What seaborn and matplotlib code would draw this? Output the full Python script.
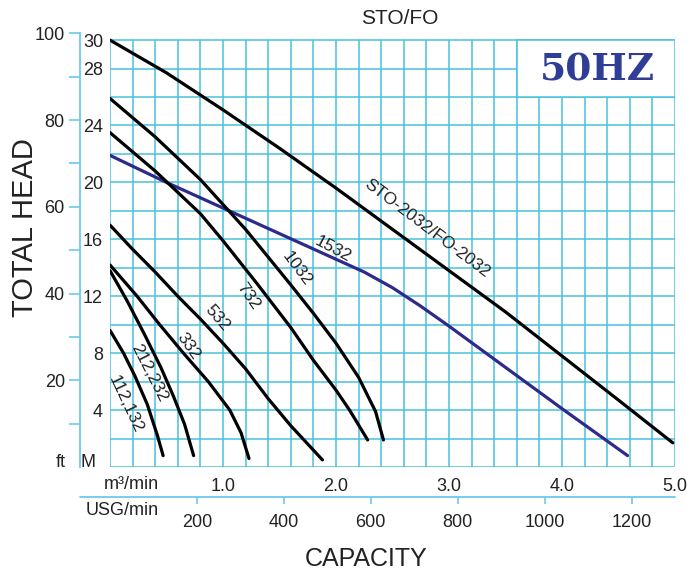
import numpy as np
import pandas as pd
import seaborn as sns
import matplotlib.pyplot as plt
from matplotlib.patches import Rectangle
from matplotlib.ticker import FixedLocator

sns.set_style("white")
plt.rcParams['font.family'] = ['Liberation Sans', 'DejaVu Sans']

# pump curves: capacity (m3/min) vs total head (M)
q_2032 = [0, 0.5, 1.0, 1.5, 2.0, 2.5, 3.0, 3.5, 4.0, 4.5, 4.98]
h_2032 = [30, 27.7, 25.1, 22.4, 19.6, 16.7, 13.8, 10.9, 7.8, 4.7, 1.7]

q_1532 = [0, 0.5, 1.0, 1.5, 2.0, 2.25, 2.5, 2.75, 3.0, 3.5, 4.0, 4.58]
h_1532 = [21.9, 20.0, 18.2, 16.4, 14.6, 13.7, 12.6, 11.3, 9.9, 7.0, 4.1, 0.8]

q_1032 = [0, 0.4, 0.8, 1.2, 1.6, 1.8, 2.0, 2.2, 2.35, 2.42]
h_1032 = [25.9, 23.2, 20.2, 16.7, 12.8, 10.8, 8.7, 6.3, 3.9, 1.9]

q_732 = [0, 0.4, 0.8, 1.0, 1.3, 1.6, 1.8, 2.0, 2.12, 2.28]
h_732 = [23.5, 20.8, 17.8, 15.9, 12.9, 9.8, 7.5, 5.4, 4.0, 1.9]

q_532 = [0, 0.2, 0.4, 0.6, 0.8, 1.0, 1.2, 1.4, 1.6, 1.88]
h_532 = [17.0, 15.3, 13.7, 12.0, 10.4, 8.7, 6.9, 4.8, 2.9, 0.5]

q_332 = [0, 0.24, 0.44, 0.65, 0.87, 1.06, 1.16, 1.23]
h_332 = [14.2, 12.0, 10.0, 8.0, 6.0, 4.0, 2.4, 0.6]

q_212 = [0, 0.15, 0.3, 0.45, 0.56, 0.66, 0.74]
h_212 = [13.8, 11.7, 9.4, 7.0, 5.0, 3.0, 0.8]

q_112 = [0, 0.12, 0.22, 0.33, 0.42, 0.47]
h_112 = [9.6, 8.0, 6.4, 4.4, 2.2, 0.8]

curves = [
    (q_2032, h_2032, 'black'),
    (q_1532, h_1532, '#2e2a8c'),
    (q_1032, h_1032, 'black'),
    (q_732, h_732, 'black'),
    (q_532, h_532, 'black'),
    (q_332, h_332, 'black'),
    (q_212, h_212, 'black'),
    (q_112, h_112, 'black'),
]

# curve labels: text, x, y, angle
label_text = ['STO-2032/FO-2032', '1532', '1032', '732', '532', '332', '212,232', '112,132']
label_x = [2.80, 1.97, 1.65, 1.22, 0.95, 0.69, 0.35, 0.14]
label_y = [16.8, 15.3, 13.9, 12.0, 10.5, 8.5, 6.6, 4.4]
label_rot = [-37, -28, -53, -55, -49, -55, -63, -65]

m_ticks = [4, 8, 12, 16, 20, 24, 28, 30]
ft_major = [20, 40, 60, 80, 100]
ft_minor = [10, 30, 50, 70, 90]
m3_ticks = [1, 2, 3, 4, 5]
usg_ticks = [200, 400, 600, 800, 1000, 1200]

grid_c = '#48c2dc'
axis_c = '#6ccaee'
txt_c = '#222222'

fig = plt.figure(figsize=(6.87, 5.73), dpi=100)
ax = fig.add_axes([110 / 687, 106 / 573, 565 / 687, 434 / 573])
ax.set_xlim(0, 5)
ax.set_ylim(0, 30.5)
for s in ax.spines.values():
    s.set_visible(False)

# graph paper grid
ax.vlines(np.arange(0, 5.01, 0.2), 0, 30, color=grid_c, lw=1.1, zorder=1)
ax.hlines(np.arange(0, 30.1, 2), 0, 5, color=grid_c, lw=1.1, zorder=1)
ax.add_patch(Rectangle((3.6, 26), 1.4, 4, facecolor='white', edgecolor=grid_c, lw=1.1, zorder=2))
ax.text(4.31, 27.9, '50HZ', color='#2f3d96', fontsize=27, fontweight='bold',
        family='DejaVu Serif', ha='center', va='center', zorder=3)

for q, h, c in curves:
    sns.lineplot(x=q, y=h, ax=ax, color=c, lw=2.3, sort=False, estimator=None, zorder=4)

for t, x, y, r in zip(label_text, label_x, label_y, label_rot):
    ax.text(x, y, t, rotation=r, rotation_mode='anchor', ha='center', va='center',
            fontsize=12.5, color=txt_c, zorder=5)

# metres axis
ax.set_yticks(m_ticks, labels=[str(v) for v in m_ticks])
ax.tick_params(axis='y', length=0, pad=5, labelsize=13, labelcolor=txt_c)
ax.text(-0.025, 0.35, 'M', transform=ax.get_yaxis_transform(), ha='right', va='center',
        fontsize=13, color=txt_c)

# feet axis
sec_y = ax.secondary_yaxis(-0.053, functions=(lambda m: m / 0.3048, lambda f: f * 0.3048))
sec_y.set_yticks(ft_major, labels=[str(v) for v in ft_major])
sec_y.yaxis.set_minor_locator(FixedLocator(ft_minor))
sec_y.tick_params(which='both', length=8, width=1.2, color=axis_c, pad=3,
                  labelsize=13, labelcolor=txt_c)
sec_y.spines['left'].set_color(axis_c)
sec_y.spines['left'].set_linewidth(1.3)
ax.text(-0.078, 0.35, 'ft', transform=ax.get_yaxis_transform(), ha='right', va='center',
        fontsize=13, color=txt_c)

# m3/min axis
ax.set_xticks(m3_ticks, labels=['%.1f' % v for v in m3_ticks])
ax.tick_params(axis='x', length=0, pad=8, labelsize=13, labelcolor=txt_c)
ax.text(0.037, -0.041, 'm³/min', transform=ax.transAxes, ha='center', va='center',
        fontsize=13, color=txt_c)

# USG/min axis
sec_x = ax.secondary_xaxis(-0.069, functions=(lambda q: q * 260, lambda g: g / 260))
sec_x.set_xticks(usg_ticks, labels=[str(v) for v in usg_ticks])
sec_x.tick_params(length=5, width=1.2, color=axis_c, pad=7, labelsize=13, labelcolor=txt_c)
sec_x.spines['bottom'].set_visible(False)
ax.plot([-0.053, 1], [-0.069, -0.069], transform=ax.transAxes, color=axis_c, lw=1.3,
        clip_on=False)
ax.text(0.021, -0.101, 'USG/min', transform=ax.transAxes, ha='center', va='center',
        fontsize=13, color=txt_c)

fig.text(25 / 687, 1 - 228 / 573, 'TOTAL HEAD', rotation=90, ha='center', va='center',
         fontsize=21, color=txt_c)
fig.text(366 / 687, 1 - 559 / 573, 'CAPACITY', ha='center', va='center', fontsize=18, color=txt_c)
fig.text(400 / 687, 1 - 19 / 573, 'STO/FO', ha='center', va='center', fontsize=15, color=txt_c)

fig.savefig('out.png', dpi=100, facecolor='white')
